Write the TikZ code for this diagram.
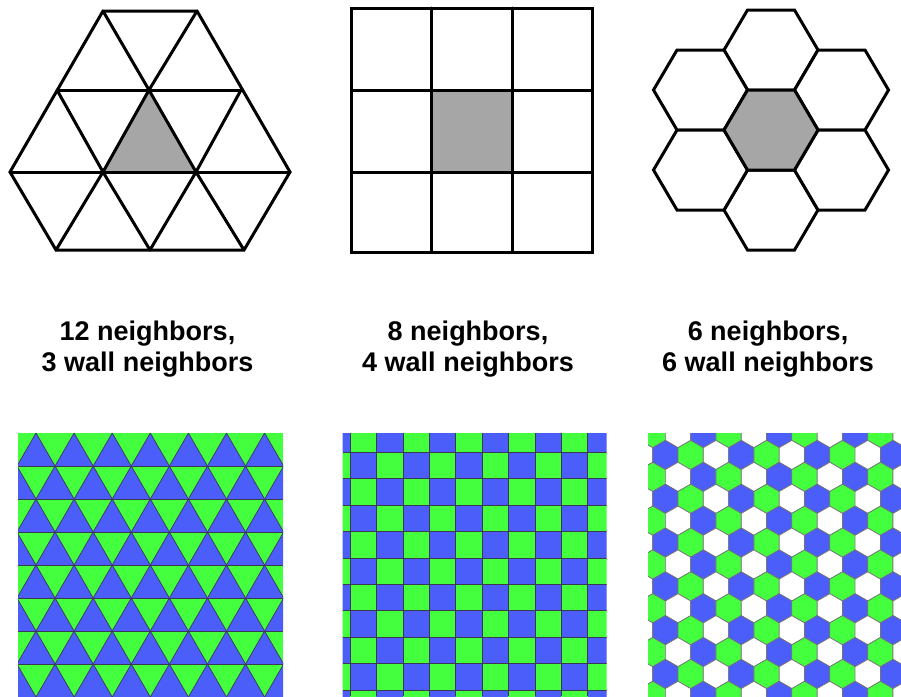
\documentclass[tikz,border=0pt]{standalone}
\usepackage{fontspec}
\setmainfont{Liberation Sans}
\definecolor{cellgray}{RGB}{166,166,166}
\definecolor{tblue}{RGB}{75,94,250}
\definecolor{tgreen}{RGB}{67,255,62}
\definecolor{tedge}{RGB}{60,58,80}
\definecolor{hedge}{RGB}{115,115,115}
\tikzset{
  outline/.style={line width=3pt, line join=miter},
  inner/.style={line width=3pt, line cap=round},
  lbl/.style={font=\fontsize{27}{31.7}\selectfont\bfseries, inner sep=0pt, anchor=base},
  tileedge/.style={line width=0.7pt, draw=tedge},
}
\begin{document}
\begin{tikzpicture}[x=1pt,y=-1pt]
\useasboundingbox (0,0) rectangle (901,696);
\fill[white] (0,0) rectangle (901,696);

% ---------- top-left: triangles ----------
\coordinate (a1) at (103,11);  \coordinate (a2) at (197,11);
\coordinate (b1) at (57,90);   \coordinate (b2) at (149,90);  \coordinate (b3) at (241,90);
\coordinate (c1) at (10,172);  \coordinate (c2) at (103,172); \coordinate (c3) at (196,172); \coordinate (c4) at (290,172);
\coordinate (d1) at (56,250);  \coordinate (d2) at (150,250); \coordinate (d3) at (244,250);
\fill[cellgray] (b2) -- (c2) -- (c3) -- cycle;
\draw[inner] (b1) -- (b3) (c1) -- (c4);
\draw[inner] (a2) -- (b2) -- (c2) -- (d1) (b3) -- (c3) -- (d2);
\draw[inner] (a1) -- (b2) -- (c3) -- (d3) (b1) -- (c2) -- (d2);
\draw[outline] (a1) -- (a2) -- (c4) -- (d3) -- (d1) -- (c1) -- cycle;

% ---------- top-middle: squares ----------
\fill[cellgray] (431.5,90) rectangle (512,172);
\draw[inner] (431.5,8) -- (431.5,252) (512,8) -- (512,252)
             (351.5,90) -- (592,90) (351.5,172) -- (592,172);
\draw[outline] (351.5,8) rectangle (592,252);

% ---------- top-right: hexagons ----------
\foreach \cx/\cy/\fc in {771/50/white, 771/210/white, 700.5/90/white, 841.5/90/white,
                         700.5/170/white, 841.5/170/white, 771/130/cellgray}{
  \filldraw[outline, fill=\fc] (\cx+47,\cy) -- (\cx+23.5,\cy-40) -- (\cx-23.5,\cy-40)
      -- (\cx-47,\cy) -- (\cx-23.5,\cy+40) -- (\cx+23.5,\cy+40) -- cycle;
}

% ---------- labels ----------
\node[lbl] (l1a) at (147.5,340) {12 neighbors,};
\node[lbl] (l1b) at (147.5,371.7) {3 wall neighbors};
\node[lbl] (l2a) at (468,340) {8 neighbors,};
\node[lbl] (l2b) at (468,371.7) {4 wall neighbors};
\node[lbl] (l3a) at (768,340) {6 neighbors,};
\node[lbl] (l3b) at (768,371.7) {6 wall neighbors};

% ---------- bottom-left: triangular tiling ----------
\begin{scope}
  \clip (18,433) rectangle (283,696);
  \fill[tgreen] (18,433) rectangle (283,696);
  \foreach \j in {0,...,7}{
    \foreach \k in {-1,...,8}{
      \pgfmathsetmacro\xt{36-19.05*mod(\j,2)+38.1*\k}
      \pgfmathsetmacro\yt{433+33*\j}
      \fill[tblue] (\xt,\yt) -- (\xt-19.05,\yt+33) -- (\xt+19.05,\yt+33) -- cycle;
    }
  }
  \foreach \j in {1,...,7}{
    \draw[tileedge] (18,433+33*\j) -- (283,433+33*\j);
  }
  \foreach \k in {-5,...,11}{
    \draw[tileedge] (36+38.1*\k,433) -- ++(-152.4,264);
    \draw[tileedge] (36+38.1*\k,433) -- ++(152.4,264);
  }
\end{scope}

% ---------- bottom-middle: square tiling ----------
\begin{scope}
  \clip (342.7,433) rectangle (606.7,696);
  \foreach \i in {0,...,10}{
    \foreach \j in {0,...,10}{
      \pgfmathsetmacro\xl{350+26.4*(\i-1)}
      \pgfmathsetmacro\yl{452.3+26.4*(\j-1)}
      \pgfmathparse{mod(\i+\j,2)==0 ? "tblue" : "tgreen"}
      \fill[\pgfmathresult] (\xl,\yl) rectangle ++(26.4,26.4);
    }
  }
  \foreach \i in {0,...,9}{
    \draw[tileedge, line width=0.6pt] (350+26.4*\i,433) -- (350+26.4*\i,696);
    \draw[tileedge, line width=0.6pt] (342.7,452.3+26.4*\i) -- (606.7,452.3+26.4*\i);
  }
\end{scope}

% ---------- bottom-right: hexagonal tiling ----------
\begin{scope}
  \clip (648,433) rectangle (901,696);
  \foreach \n in {0,...,13}{
    \foreach \k in {-1,...,10}{
      \pgfmathsetmacro\hx{652.7+12.65*mod(\n,2)+25.3*\k}
      \pgfmathsetmacro\hy{433.1+21.9*\n}
      \pgfmathtruncatemacro\ci{mod(\k+3+mod(\n,2)*2,3)}
      \ifcase\ci\def\hc{tgreen}\or\def\hc{white}\or\def\hc{tblue}\fi
      \filldraw[fill=\hc, draw=hedge, line width=0.7pt] (\hx,\hy) +(30:14.61) -- +(90:14.61) -- +(150:14.61)
         -- +(210:14.61) -- +(270:14.61) -- +(330:14.61) -- cycle;
    }
  }
\end{scope}
\end{tikzpicture}
\end{document}
